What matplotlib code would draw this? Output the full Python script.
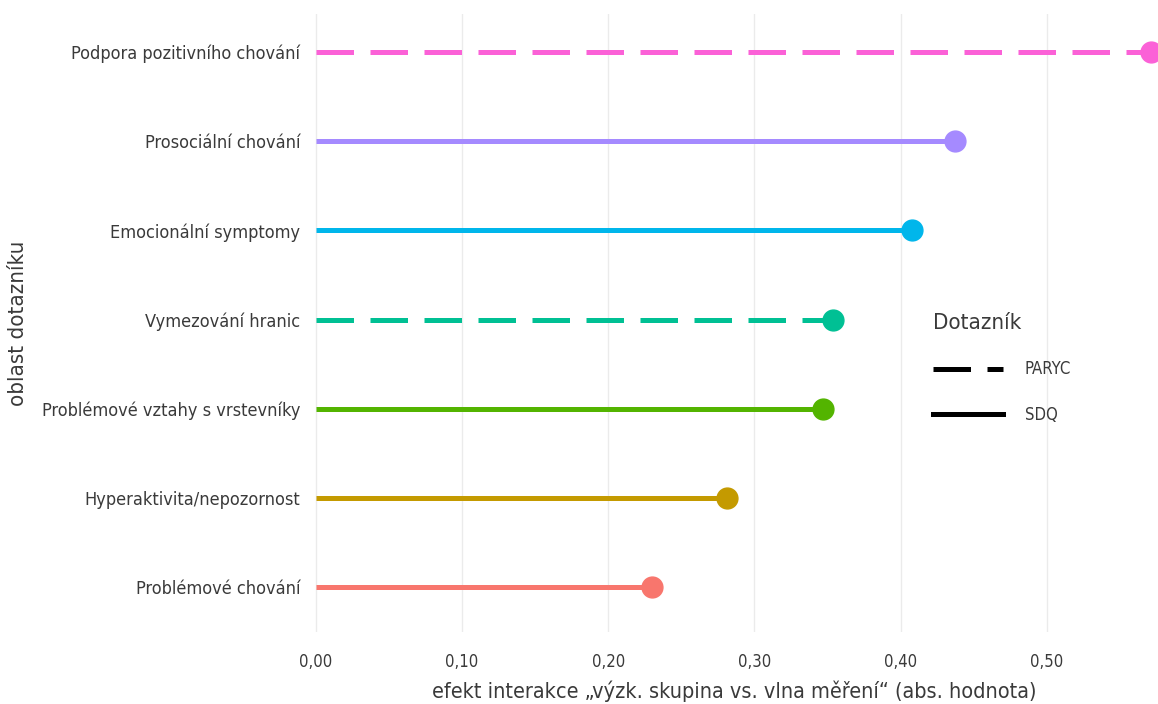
import matplotlib.pyplot as plt
from matplotlib.lines import Line2D

plt.rcParams['font.family'] = ['DejaVu Sans']
plt.rcParams['font.stretch'] = 'condensed'

# data (bottom to top)
categories = ['Problémové chování', 'Hyperaktivita/nepozornost',
              'Problémové vztahy s vrstevníky', 'Vymezování hranic',
              'Emocionální symptomy', 'Prosociální chování',
              'Podpora pozitivního chování']
values = [0.230, 0.281, 0.347, 0.354, 0.408, 0.437, 0.571]
questionnaire = ['SDQ', 'SDQ', 'SDQ', 'PARYC', 'SDQ', 'SDQ', 'PARYC']
colors = ['#F8766D', '#C49A00', '#53B400', '#00C094', '#00B6EB', '#A58AFF', '#FB61D7']
xticks = [0.0, 0.1, 0.2, 0.3, 0.4, 0.5]
xticklabels = ['0,00', '0,10', '0,20', '0,30', '0,40', '0,50']

dash = (0, (7.5, 3.3))

fig = plt.figure(figsize=(11.58, 7.04), dpi=100)
ax = fig.add_axes([310 / 1158, 1 - 632 / 704, 1 - 310 / 1158, (632 - 14) / 704])

for i, (v, q, c) in enumerate(zip(values, questionnaire, colors)):
    y = i + 1
    ls = dash if q == 'PARYC' else '-'
    ax.plot([0, v], [y, y], color=c, lw=3.6, linestyle=ls, solid_capstyle='butt',
            dash_capstyle='butt', zorder=3)
    ax.plot(v, y, 'o', color=c, markersize=15, zorder=4, clip_on=False)

ax.set_xlim(-0.004, (1158 - 310) / 1462 - 0.004)
ax.set_ylim(0.496, 7.426)
ax.set_xticks(xticks)
ax.set_xticklabels(xticklabels)
ax.set_yticks(range(1, len(categories) + 1))
ax.set_yticklabels(categories)
ax.tick_params(axis='both', length=0, labelsize=13, labelcolor='#3a3a3a')
ax.tick_params(axis='x', pad=15, labelsize=12)
ax.tick_params(axis='y', pad=7)
ax.grid(axis='x', color='#ebebeb', lw=1)
ax.set_axisbelow(True)
for s in ax.spines.values():
    s.set_visible(False)

ax.set_xlabel('efekt interakce „výzk. skupina vs. vlna měření“ (abs. hodnota)',
              fontsize=15.5, color='#3a3a3a', labelpad=7)
ax.set_ylabel('oblast dotazníku', fontsize=16, color='#3a3a3a', labelpad=10)

handles = [Line2D([], [], color='black', lw=3.6, linestyle=dash),
           Line2D([], [], color='black', lw=3.6)]
leg = fig.legend(handles, ['PARYC', 'SDQ'], title='Dotazník', frameon=False,
                 loc='upper left', bbox_to_anchor=(918 / 1158, 1 - 298 / 704),
                 fontsize=12, title_fontsize=16, handlelength=4.2, handletextpad=1.3,
                 labelspacing=1.65)
leg._legend_box.align = 'left'
for t in leg.get_texts():
    t.set_color('#3a3a3a')
leg.get_title().set_color('#3a3a3a')

fig.savefig('out.png', dpi=100)
